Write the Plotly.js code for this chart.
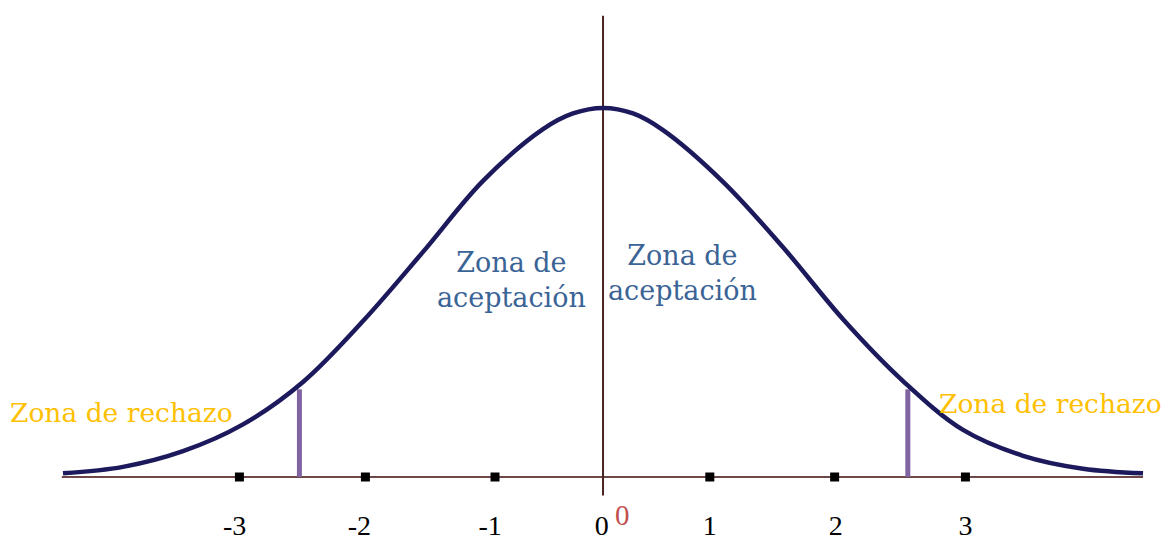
<!DOCTYPE html>
<html>
<head>
<meta charset="utf-8">
<script src="https://cdn.plot.ly/plotly-3.0.1.min.js"></script>
<style>
  html, body { margin: 0; padding: 0; background: #ffffff; }
  #chart { width: 1165px; height: 545px; }
</style>
</head>
<body>
<div id="chart"></div>
<script>
  // Bell curve (z units, density)
  var curveX = [-4.5, -4.0, -3.5, -3.0, -2.5, -2.0, -1.5, -1.0, -0.5, -0.25, 0,
                0.25, 0.5, 1.0, 1.5, 2.0, 2.5, 3.0, 3.5, 4.0, 4.5];
  var curveY = [0.004, 0.011, 0.028, 0.057, 0.103, 0.169, 0.244, 0.321, 0.377, 0.394, 0.400,
                0.394, 0.376, 0.320, 0.249, 0.171, 0.104, 0.051, 0.023, 0.009, 0.004];

  // Critical values (purple cut lines) and their heights on the curve
  var cutX = [-2.53, 2.54];
  var cutTop = [0.095, 0.095];

  // Tick squares on the axis and the number labels under it
  var tickX = [-3.03, -1.98, -0.90, 0.89, 1.93, 3.02];
  var labelX = [-3.07, -2.03, -0.94, -0.01, 0.89, 1.94, 3.02];
  var labelText = ["-3", "-2", "-1", "0", "1", "2", "3"];

  // Axis extents
  var axisX = [-4.51, 4.50];
  var centerLineY = [-0.020, 0.500];

  var NAVY = "#1c1a5c";
  var AXIS = "#6e4848";
  var PURPLE = "#8064a2";
  var BLUE = "#3b6496";
  var GOLD = "#ffc000";
  var FONT = "DejaVu Serif, serif";

  var traces = [];

  // horizontal axis line
  traces.push({
    type: "scatter", mode: "lines",
    x: axisX, y: [0, 0],
    line: { color: AXIS, width: 2 },
    hoverinfo: "skip"
  });

  // vertical line at the mean
  traces.push({
    type: "scatter", mode: "lines",
    x: [0, 0], y: centerLineY,
    line: { color: "#4a2424", width: 2 },
    hoverinfo: "skip"
  });

  // purple cut lines
  cutX.forEach(function (cx, i) {
    traces.push({
      type: "scatter", mode: "lines",
      x: [cx, cx], y: [0, cutTop[i]],
      line: { color: PURPLE, width: 5 },
      hoverinfo: "skip"
    });
  });

  // the bell curve
  traces.push({
    type: "scatter", mode: "lines",
    x: curveX, y: curveY,
    line: { color: NAVY, width: 4.5, shape: "spline", smoothing: 1 },
    hoverinfo: "skip"
  });

  // tick squares
  traces.push({
    type: "scatter", mode: "markers",
    x: tickX, y: tickX.map(function () { return 0; }),
    marker: { symbol: "square", size: 9, color: "#000000" },
    hoverinfo: "skip"
  });

  // number labels
  traces.push({
    type: "scatter", mode: "text",
    x: labelX, y: labelX.map(function () { return -0.0553; }),
    text: labelText,
    textposition: "middle center",
    textfont: { family: "Liberation Serif, serif", size: 28, color: "#000000" },
    hoverinfo: "skip"
  });

  var annotations = [
    { x: -0.76, y: 0.213, text: "Zona de<br>aceptación", font: { color: BLUE, size: 27 }, align: "center" },
    { x: 0.66, y: 0.221, text: "Zona de<br>aceptación", font: { color: BLUE, size: 27 }, align: "center" },
    { x: -4.01, y: 0.070, text: "Zona de rechazo", font: { color: GOLD, size: 26.5 } },
    { x: 3.73, y: 0.080, text: "Zona de rechazo", font: { color: GOLD, size: 26.5 } },
    { x: 0.16, y: -0.041, text: "0", font: { color: "#c0504d", size: 29, family: "Liberation Serif, serif" } }
  ].map(function (a) {
    a.xref = "x"; a.yref = "y"; a.showarrow = false;
    a.font.family = a.font.family || FONT;
    return a;
  });

  var layout = {
    width: 1165, height: 545,
    margin: { l: 0, r: 0, t: 0, b: 0 },
    paper_bgcolor: "#ffffff",
    plot_bgcolor: "#ffffff",
    showlegend: false,
    xaxis: { range: [-5.025, 4.683], visible: false, fixedrange: true },
    yaxis: { range: [-0.0737, 0.517], visible: false, fixedrange: true },
    annotations: annotations
  };

  Plotly.newPlot("chart", traces, layout, { displayModeBar: false, staticPlot: true });
</script>
</body>
</html>
